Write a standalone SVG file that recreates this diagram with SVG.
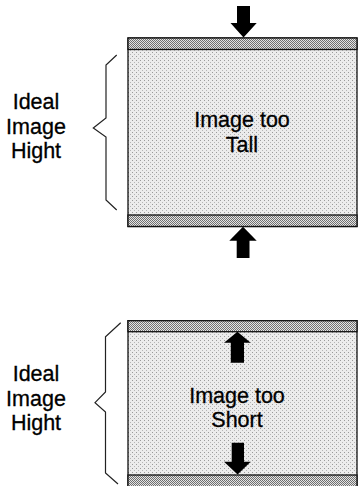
<svg xmlns="http://www.w3.org/2000/svg" width="358" height="486" viewBox="0 0 358 486">
<style>
.lbl{font-family:"Liberation Sans",Arial,sans-serif;font-size:21.5px;fill:#000;stroke:#000;stroke-width:0.3;text-anchor:middle}
.brace{fill:none;stroke:#222;stroke-width:1.2}
.edge{stroke:#111;stroke-width:1.3}
.arrow{fill:#000}
</style>
<defs>
<pattern id="body" width="4" height="4" patternUnits="userSpaceOnUse">
<rect width="4" height="4" fill="#ececec"/>
<rect x="0" y="0" width="1" height="1" fill="#9a9a9a"/>
<rect x="2" y="2" width="1" height="1" fill="#b5b5b5"/>
</pattern>
<pattern id="band" width="2" height="2" patternUnits="userSpaceOnUse">
<rect width="2" height="2" fill="#e4e4e4"/>
<rect x="0" y="0" width="1" height="1" fill="#707070"/>
<rect x="1" y="1" width="1" height="1" fill="#707070"/>
</pattern>
</defs>
<g id="tall">
<rect x="128" y="38" width="229" height="188.5" fill="url(#body)" class="edge"/>
<rect x="128" y="38" width="229" height="11.5" fill="url(#band)" class="edge"/>
<rect x="128" y="215" width="229" height="11.5" fill="url(#band)" class="edge"/>
<text class="lbl" x="242" y="127">Image too</text>
<text class="lbl" x="242" y="152">Tall</text>
</g>
<g id="short">
<rect x="128" y="320.7" width="229" height="170" fill="url(#body)" class="edge"/>
<rect x="128" y="320.7" width="229" height="11" fill="url(#band)" class="edge"/>
<rect x="128" y="475" width="229" height="15" fill="url(#band)" class="edge"/>
<text class="lbl" x="237" y="403">Image too</text>
<text class="lbl" x="237" y="427">Short</text>
</g>
<g id="label-top">
<text class="lbl" x="36" y="109">Ideal</text>
<text class="lbl" x="36" y="133.5">Image</text>
<text class="lbl" x="36" y="158">Hight</text>
<path class="brace" d="M116.7,55 L106,65 L106,118 L93.3,128 L106,137 L106,200 L116.7,210"/>
</g>
<g id="label-bottom">
<text class="lbl" x="36" y="381">Ideal</text>
<text class="lbl" x="36" y="405.5">Image</text>
<text class="lbl" x="36" y="430">Hight</text>
<path class="brace" d="M120.7,322.7 L105.5,336.7 L105.5,392 L95,402.7 L105.5,412 L105.5,473 L118,484"/>
</g>
<g id="connectors">
<path class="arrow" d="M237,6 H250 V23 H256.7 L243.5,37.5 L230.5,23 H237 Z"/>
<path class="arrow" d="M243,226.7 L256.7,240.7 H249.5 V258 H236.7 V240.7 H229.3 Z"/>
<path class="arrow" d="M237.4,331.7 L250.7,342.7 H244 V362.7 H230.8 V342.7 H224 Z"/>
<path class="arrow" d="M231.7,442.7 H244 V461.7 H250.7 L237.6,474.5 L224,461.7 H231.7 Z"/>
</g>
</svg>
